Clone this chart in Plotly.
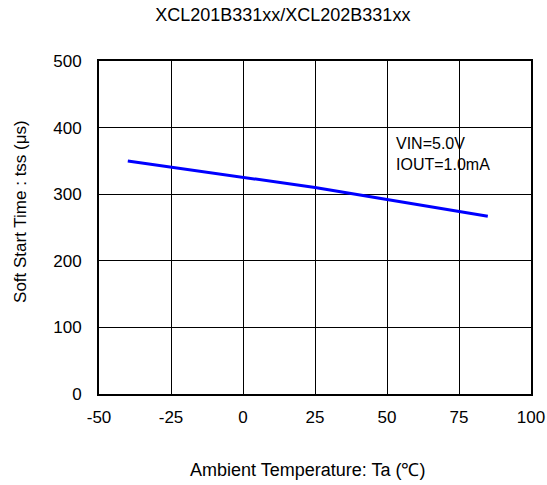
import plotly.graph_objects as go

temperature_C = [-40, -25, 0, 25, 50, 75, 85]
soft_start_us = [350, 341, 326, 310, 292, 274, 267]

x_ticks = [-50, -25, 0, 25, 50, 75, 100]
x_tick_labels = ['-50', '-25', '0', '25', '50', '75', '100']
y_ticks = [0, 100, 200, 300, 400, 500]

fig = go.Figure()
fig.add_trace(go.Scatter(x=temperature_C, y=soft_start_us, mode='lines',
                         line=dict(color='#0000ff', width=3), showlegend=False))

# condition note inside the plot
fig.add_annotation(x=52.6, y=392, text="VIN=5.0V<br>IOUT=1.0mA", showarrow=False,
                   xanchor='left', yanchor='top', align='left',
                   font=dict(size=16, color='black'))

# axis titles placed as annotations so they sit where the reference has them
fig.add_annotation(xref='paper', yref='paper', x=0.4815, y=-0.228,
                   text='Ambient Temperature: Ta (℃)', showarrow=False,
                   xanchor='center', yanchor='middle', font=dict(size=18))
fig.add_annotation(xref='paper', yref='paper', x=-0.183, y=0.5495,
                   text='Soft Start Time : tss (μs)', showarrow=False, textangle=-90,
                   xanchor='center', yanchor='middle', font=dict(size=17))

fig.update_layout(
    width=547, height=485,
    margin=dict(l=99, r=16, t=61, b=91),
    paper_bgcolor='white', plot_bgcolor='white',
    font=dict(family='Liberation Sans, Arial', size=17, color='black'),
    title=dict(text='XCL201B331xx/XCL202B331xx', x=0.517, xanchor='center',
               y=0.969, yanchor='middle', font=dict(size=18)),
)
fig.update_xaxes(range=[-50, 100], tickvals=x_ticks, ticktext=x_tick_labels,
                 showgrid=True, gridcolor='black', gridwidth=1,
                 showline=True, linecolor='black', linewidth=2, mirror=True, zeroline=False,
                 ticks='', ticklabelstandoff=7, automargin=False)
fig.update_yaxes(range=[0, 500], tickvals=y_ticks, showgrid=True, gridcolor='black', gridwidth=1,
                 showline=True, linecolor='black', linewidth=2, mirror=True, zeroline=False,
                 ticks='', ticklabelstandoff=12, automargin=False)

# drop the default 8px page margin so the figure fills the window
fig.write_html("out.html", config={'displayModeBar': False},
               post_script="document.body.style.margin='0';document.body.style.overflow='hidden';")
